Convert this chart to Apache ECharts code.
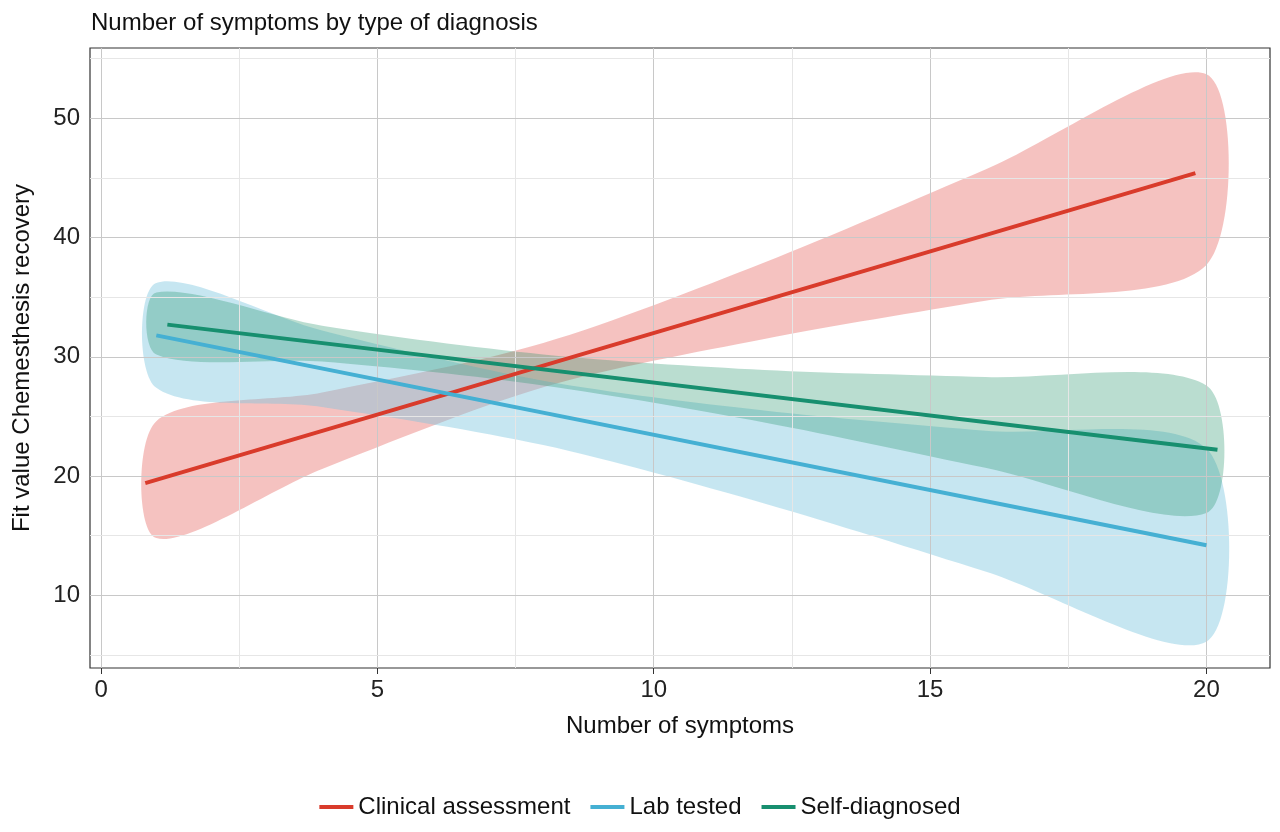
<!DOCTYPE html>
<html><head><meta charset="utf-8">
<script src="https://cdn.jsdelivr.net/npm/echarts@6/dist/echarts.min.js"></script>
<style>html,body{margin:0;padding:0;background:#fff}#c{width:1280px;height:832px}</style>
</head><body><div id="c"></div>
<script>
const xTicks=[0,5,10,15,20];
const yTicks=[10,20,30,40,50];
const xGrid=[0,2.5,5,7.5,10,12.5,15,17.5,20];
const yGrid=[5,10,15,20,25,30,35,40,45,50,55];
const bandX=[1,4,8,12,16,20];
const clinLine=[[0.8,19.4],[19.8,45.4]];
const clinLow=[14.8,20.6,27.45,31.5,34.7,37.7];
const clinHigh=[24.6,27.0,31.15,37.9,45.7,53.7];
const labLine=[[1,31.8],[20,14.2]];
const labLow=[27.4,25.8,22.6,17.7,12.0,6.1];
const labHigh=[36.2,32.2,28.0,25.5,23.8,22.3];
const selfLine=[[1.2,32.7],[20.2,22.2]];
const selfLow=[30.2,29.6,27.6,24.5,20.7,16.9];
const selfHigh=[35.4,32.6,30.2,28.9,28.3,27.6];
const names=['Clinical assessment','Lab tested','Self-diagnosed'];
const lineCol=['#d93b2b','#45b0d3','#178f6f'];
const fillCol=['rgba(233,120,115,0.45)','rgba(120,195,222,0.42)','rgba(40,150,110,0.32)'];

function band(low,high,i){
  const data=bandX.map((x,k)=>[x,low[k],high[k]]);
  return {type:'custom',silent:true,z:1,data,encode:{x:0,y:[1,2]},
    renderItem:function(params,api){
      if(params.dataIndex!==0) return null;
      const up=data.map(d=>api.coord([d[0],d[2]]));
      const dn=data.map(d=>api.coord([d[0],d[1]])).reverse();
      return {type:'polygon',shape:{points:up.concat(dn),smooth:0.3},style:{fill:fillCol[i]}};
    }};
}
const series=[
  {type:'line',data:[],silent:true,markLine:{silent:true,symbol:'none',label:{show:false},animation:false,
    data:[...xGrid.map(v=>({xAxis:v,lineStyle:{color:v%5===0?'#c8c8c8':'#e6e6e6',width:1,type:'solid'}})),
          ...yGrid.map(v=>({yAxis:v,lineStyle:{color:v%10===0?'#c8c8c8':'#e6e6e6',width:1,type:'solid'}}))]}},
  band(clinLow,clinHigh,0),band(labLow,labHigh,1),band(selfLow,selfHigh,2),
  {name:names[0],type:'line',data:clinLine,symbol:'none',lineStyle:{color:lineCol[0],width:4},itemStyle:{color:lineCol[0]},z:5},
  {name:names[1],type:'line',data:labLine,symbol:'none',lineStyle:{color:lineCol[1],width:4},itemStyle:{color:lineCol[1]},z:5},
  {name:names[2],type:'line',data:selfLine,symbol:'none',lineStyle:{color:lineCol[2],width:4},itemStyle:{color:lineCol[2]},z:5}
];
const chart=echarts.init(document.getElementById('c'));
const font='Liberation Sans, Arial, sans-serif';
chart.setOption({
  animation:false,
  textStyle:{fontFamily:font},
  title:{text:'Number of symptoms by type of diagnosis',left:86,top:6,textStyle:{fontSize:24,fontWeight:'normal',color:'#111',fontFamily:font}},
  grid:{left:90,right:10,top:48,bottom:164,show:true,borderColor:'#333',borderWidth:1.2,containLabel:false},
  legend:{data:names,bottom:8,left:'center',itemWidth:34,itemHeight:4,itemGap:20,icon:'rect',textStyle:{fontSize:24,color:'#111',fontFamily:font}},
  xAxis:{type:'value',min:-0.2,max:21.15,name:'Number of symptoms',nameLocation:'middle',nameGap:46,
    nameTextStyle:{fontSize:24,color:'#111'},splitLine:{show:false},
    axisLine:{show:false},axisTick:{show:true,length:6,lineStyle:{color:'#333'},customValues:xTicks},
    axisLabel:{fontSize:24,color:'#222',customValues:xTicks,margin:10}},
  yAxis:{type:'value',min:3.9,max:55.9,name:'Fit value Chemesthesis recovery',nameLocation:'middle',nameGap:56,
    nameTextStyle:{fontSize:24,color:'#111'},splitLine:{show:false},
    axisLine:{show:false},axisTick:{show:true,length:6,lineStyle:{color:'#333'},customValues:yTicks},
    axisLabel:{fontSize:24,color:'#222',customValues:yTicks,margin:10}},
  series
});
</script></body></html>
